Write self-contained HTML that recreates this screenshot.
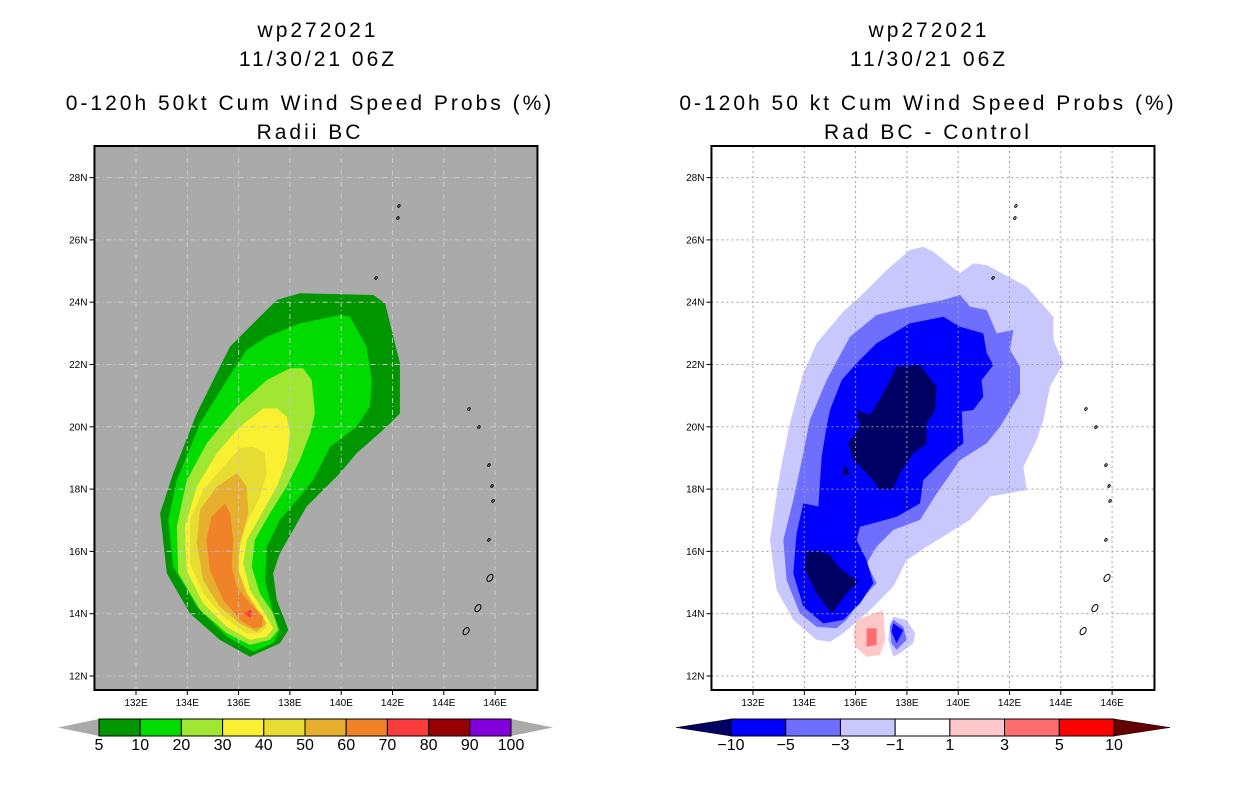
<!DOCTYPE html>
<html><head><meta charset="utf-8">
<style>
html,body{margin:0;padding:0;background:#fff;}
svg{display:block;}
text{font-family:"Liberation Sans",sans-serif;fill:#000;}
.t{font-size:21px;letter-spacing:3px;}
.tk{font-size:10px;}
.cb{font-size:16px;}
</style></head>
<body>
<svg id="fig" width="1236" height="800" viewBox="0 0 1236 800">
 <g>
  <text class="t" x="318" y="37" text-anchor="middle">wp272021</text>
  <text class="t" x="318" y="66" text-anchor="middle">11/30/21 06Z</text>
  <text class="t" x="310" y="110" text-anchor="middle">0-120h 50kt Cum Wind Speed Probs (%)</text>
  <text class="t" x="310" y="139" text-anchor="middle">Radii BC</text>
 </g>
 <g>
  <text class="t" x="929" y="37" text-anchor="middle">wp272021</text>
  <text class="t" x="929" y="66" text-anchor="middle">11/30/21 06Z</text>
  <text class="t" x="928" y="110" text-anchor="middle">0-120h 50 kt Cum Wind Speed Probs (%)</text>
  <text class="t" x="928" y="139" text-anchor="middle">Rad BC - Control</text>
 </g>
 <g id="left"></g>
 <g id="right"></g>
 <g id="lcb"></g>
 <g id="rcb"></g>
</svg>
<script>
const lonTicks=[132,134,136,138,140,142,144,146];
const latTicks=[12,14,16,18,20,22,24,26,28];
const leftLevels=["5","10","20","30","40","50","60","70","80","90","100"];
const leftColors=["#009600","#00dc00","#a0e632","#faf032","#e6dc32","#e6af2d","#f08228","#fa3c3c","#960000","#8200dc"];
const rightLevels=["-10","-5","-3","-1","1","3","5","10"];
const rightColors=["#0000ff","#6e6eff","#c8c8ff","#ffffff","#ffc8c8","#ff6e6e","#ff0000"];
// left contours [lon,lat]
const lc5=[[137.49,24.07],[138.39,24.29],[141.25,24.23],[141.71,23.96],[142.29,22.04],[142.29,20.43],[141.77,20.0],[140.6,19.15],[139.95,18.51],[138.65,17.44],[137.61,15.94],[137.35,15.3],[137.49,14.44],[137.94,13.48],[137.61,13.05],[136.44,12.62],[135.27,13.16],[134.1,14.01],[133.2,15.3],[132.94,17.22],[133.45,18.51],[134.37,20.43],[135.66,22.57],[136.57,23.32]];
const lc10=[[137.1,22.89],[138.39,23.32],[139.95,23.59],[140.34,23.53],[140.99,22.57],[141.19,21.5],[141.12,20.65],[140.6,20.0],[139.57,19.36],[138.91,18.29],[138.39,17.76],[137.61,17.01],[137.1,16.15],[137.03,15.08],[137.35,14.01],[137.61,13.48],[137.35,13.05],[136.57,12.78],[135.54,13.26],[134.37,14.22],[133.45,15.51],[133.26,17.01],[133.59,18.29],[134.5,20.11],[135.54,21.5],[136.32,22.47]];
const lc20=[[137.1,21.5],[138.0,21.88],[138.52,21.88],[138.85,21.5],[138.98,20.43],[138.79,19.79],[138.39,18.93],[137.87,18.08],[137.22,17.22],[136.63,16.37],[136.51,15.51],[136.83,14.65],[137.35,14.01],[137.55,13.48],[137.22,13.16],[136.44,13.0],[135.54,13.37],[134.5,14.12],[133.65,15.3],[133.59,16.79],[133.98,18.29],[134.76,19.47],[135.93,20.65]];
const lc30=[[136.96,20.59],[137.49,20.59],[137.88,20.32],[138.0,19.79],[137.88,18.93],[137.49,18.08],[136.83,17.11],[136.32,16.37],[136.18,15.62],[136.44,14.76],[137.03,14.01],[137.35,13.53],[137.1,13.26],[136.44,13.16],[135.54,13.58],[134.62,14.33],[133.97,15.4],[133.91,16.79],[134.37,18.08],[135.15,19.15],[136.05,20.0]];
const lc40=[[136.05,19.31],[136.57,19.36],[137.03,19.15],[137.1,18.51],[136.83,17.76],[136.32,16.9],[136.05,16.15],[135.92,15.4],[136.18,14.65],[136.83,14.01],[137.1,13.58],[136.83,13.37],[136.32,13.37],[135.4,13.9],[134.62,14.65],[134.1,15.62],[134.1,17.01],[134.62,17.97],[135.4,18.72]];
const lc50=[[135.93,18.51],[136.32,18.08],[136.38,17.22],[136.05,16.26],[135.99,15.4],[136.32,14.65],[136.83,14.01],[137.1,13.69],[136.7,13.42],[136.05,13.69],[135.27,14.22],[134.62,15.08],[134.37,16.26],[134.5,17.33],[135.15,18.08]];
const lc60=[[135.47,17.54],[135.67,17.22],[135.79,16.37],[135.73,15.51],[135.93,14.87],[136.44,14.33],[136.96,13.9],[136.9,13.58],[136.57,13.53],[136.05,13.8],[135.4,14.44],[134.88,15.4],[134.75,16.37],[134.94,17.11]];
const lc70=[[136.2,14.0],[136.45,14.13],[136.58,14.0],[136.45,13.88]];
// right contours
const rcM1=[[138.12,25.68],[138.64,25.78],[139.03,25.62],[140.07,24.93],[140.59,25.25],[141.11,25.19],[142.67,24.5],[143.71,23.53],[143.71,22.79],[144.1,22.04],[143.58,21.29],[143.32,20.22],[143.06,19.58],[142.54,18.72],[142.67,17.97],[141.24,17.76],[140.46,17.01],[138.77,16.15],[137.99,15.72],[137.47,14.87],[136.56,14.12],[135.52,13.37],[135.0,13.1],[134.48,13.16],[133.57,13.8],[132.92,14.76],[132.66,16.37],[133.05,18.51],[133.44,20.11],[133.96,21.72],[134.48,22.68],[135.52,23.7],[136.17,24.18],[137.21,25.03]];
const rcM3=[[139.42,24.07],[140.07,24.23],[140.46,23.86],[141.11,23.75],[141.5,23.0],[142.15,23.11],[142.02,22.47],[142.41,21.93],[142.41,21.07],[141.63,20.0],[141.11,19.47],[140.07,18.93],[139.16,17.86],[138.51,17.01],[137.47,16.69],[136.82,16.15],[136.43,15.62],[136.82,14.98],[136.17,14.44],[135.65,13.8],[135.26,13.53],[134.48,13.58],[133.83,14.01],[133.31,15.08],[133.18,16.37],[133.57,17.65],[133.96,19.15],[134.22,20.22],[134.87,21.5],[135.78,22.89],[136.82,23.59],[138.12,23.86]];
const rcM5=[[138.12,23.32],[139.42,23.53],[140.07,23.21],[140.98,23.0],[141.11,22.36],[141.37,21.98],[140.91,21.5],[140.98,20.97],[140.59,20.54],[140.14,20.49],[140.2,19.47],[139.42,18.93],[138.64,18.29],[138.51,17.54],[137.6,17.11],[136.17,16.79],[136.04,16.37],[136.43,15.72],[136.69,14.98],[136.17,14.33],[135.52,13.8],[134.74,13.69],[133.96,14.22],[133.57,15.3],[133.7,16.58],[133.96,17.54],[134.55,17.44],[134.68,19.04],[134.87,20.0],[135.0,20.54],[135.46,21.5],[136.04,22.04],[136.82,22.68]];
const rcM10a=[[137.6,21.93],[138.51,21.98],[139.16,21.29],[139.1,20.54],[138.77,20.11],[138.77,19.47],[138.25,19.15],[137.73,18.51],[137.47,18.02],[136.95,17.97],[136.56,18.4],[135.91,18.93],[135.72,19.47],[136.17,20.0],[136.04,20.54],[136.56,20.38],[137.08,21.07]];
const rcM10b=[[134.09,15.99],[134.48,16.04],[135.0,15.88],[135.39,15.46],[136.11,15.03],[135.65,14.65],[135.07,14.01],[134.48,14.65],[134.03,15.4]];
const rcM10c=[[135.59,18.78],[135.78,18.46],[135.46,18.46]];
const rcP1=[[136.04,13.8],[137.08,14.12],[137.15,13.16],[136.95,12.67],[136.43,12.62],[135.98,12.94],[135.91,13.37]];
const rcP3=[[136.43,13.53],[136.82,13.53],[136.82,13.0],[136.43,12.94]];
const rcBlobM1=[[137.47,13.9],[137.99,13.8],[138.32,13.37],[138.25,13.05],[137.73,12.73],[137.47,12.62],[137.27,13.16],[137.34,13.69]];
const rcBlobM3=[[137.47,13.8],[137.86,13.58],[137.99,13.16],[137.6,12.84],[137.4,13.05],[137.34,13.58]];
const rcBlobM5=[[137.47,13.69],[137.86,13.47],[137.6,13.05],[137.4,13.42]];
const islands=[[142.25,27.09],[142.21,26.7],[141.36,24.78],[144.98,20.57],[145.37,19.99],[145.76,18.77],[145.88,18.1],[145.92,17.62],[145.76,16.37],[145.8,15.15],[145.33,14.18],[144.87,13.44]];

const NS="http://www.w3.org/2000/svg";
function mk(tag,attrs,parent){const e=document.createElementNS(NS,tag);for(const k in attrs)e.setAttribute(k,attrs[k]);parent.appendChild(e);return e;}
function makeMap(g,x0,bg){
  const X=lon=>x0+(lon-132)*25.65;
  const Y=lat=>676-(lat-12)*31.15;
  const L=X(130.4)-0.5,R=L+443,T=146,B=690;
  const clipId="clip"+x0;
  const defs=mk("defs",{},g);
  const cp=mk("clipPath",{id:clipId},defs);
  mk("rect",{x:L,y:T,width:R-L,height:B-T},cp);
  const bgr=mk("rect",{x:L,y:T,width:R-L,height:B-T,fill:bg},g);
  
  
  const body=mk("g",{"clip-path":"url(#"+clipId+")"},g);
  return {X,Y,L,R,T,B,body};
}
function poly(m,pts,fill,name){
  const d=pts.map(p=>m.X(p[0]).toFixed(1)+","+m.Y(p[1]).toFixed(1)).join(" ");
  const e=mk("polygon",{points:d,fill:fill},m.body);
  
  
}
function grid(m,color,dash){
  lonTicks.forEach(lon=>{const l=mk("line",{x1:m.X(lon),x2:m.X(lon),y1:m.T,y2:m.B,stroke:color,"stroke-width":1,"stroke-dasharray":dash},m.body);
    
    });
  latTicks.forEach(lat=>{const l=mk("line",{x1:m.L,x2:m.R,y1:m.Y(lat),y2:m.Y(lat),stroke:color,"stroke-width":1,"stroke-dasharray":dash},m.body);
    
    });
}
function coast(m){
  islands.forEach((p,i)=>{
    const big=(i>=9);
    const e=mk("ellipse",{cx:m.X(p[0]),cy:m.Y(p[1]),rx:big?2.5:1,ry:big?4:1.5,fill:"none",stroke:"#000","stroke-width":1,transform:"rotate(35 "+m.X(p[0])+" "+m.Y(p[1])+")"},m.body);
    
    
  });
}
function axes(g,m){
  const fr=mk("rect",{x:m.L,y:m.T,width:m.R-m.L,height:m.B-m.T,fill:"none",stroke:"#000","stroke-width":2},g);
  
  
  latTicks.forEach(lat=>{
    mk("line",{x1:m.L-5,x2:m.L,y1:m.Y(lat),y2:m.Y(lat),stroke:"#000"},g);
    const t=mk("text",{x:m.L-7,y:m.Y(lat)+3.5,"text-anchor":"end",class:"tk"},g);
    t.textContent=lat+"N";
    
    
  });
  lonTicks.forEach(lon=>{
    mk("line",{x1:m.X(lon),x2:m.X(lon),y1:m.B,y2:m.B+5,stroke:"#000"},g);
    const t=mk("text",{x:m.X(lon),y:m.B+16,"text-anchor":"middle",class:"tk"},g);
    t.textContent=lon+"E";
    
    
  });
}
// left map
const gl=document.getElementById("left");
const ml=makeMap(gl,136,"#aaaaaa");
[lc5,lc10,lc20,lc30,lc40,lc50,lc60,lc70].forEach((p,i)=>poly(ml,p,leftColors[i],"prob-contour-"+leftLevels[i]));
grid(ml,"#c8c8c8","5,3,1,3");
coast(ml);
axes(gl,ml);
// right map
const gr=document.getElementById("right");
const mr=makeMap(gr,753,"#ffffff");
poly(mr,rcM1,rightColors[2],"diff-contour-minus1");
poly(mr,rcM3,rightColors[1],"diff-contour-minus3");
poly(mr,rcM5,rightColors[0],"diff-contour-minus5");
poly(mr,rcM10a,"#000064","diff-contour-minus10-north");
poly(mr,rcM10b,"#000064","diff-contour-minus10-south");
poly(mr,rcM10c,"#000064","diff-contour-minus10-small");
poly(mr,rcP1,rightColors[4],"diff-contour-plus1");
poly(mr,rcP3,rightColors[5],"diff-contour-plus3");
poly(mr,rcBlobM1,rightColors[2],"diff-blob-minus1");
poly(mr,rcBlobM3,rightColors[1],"diff-blob-minus3");
poly(mr,rcBlobM5,rightColors[0],"diff-blob-minus5");
grid(mr,"#a0a0a0","2,3");
coast(mr);
axes(gr,mr);
// colorbars
function colorbar(g,x0,x1,tipL,tipR,colors,labels,cl,cr){
  const y0=719,y1=736,n=colors.length,w=(x1-x0)/n;
  const a=mk("polygon",{points:`${tipL},${(y0+y1)/2} ${x0},${y0} ${x0},${y1}`,fill:cl,stroke:cl==="#aaaaaa"?"none":"#000","stroke-width":0.5},g);
  
  
  const b=mk("polygon",{points:`${tipR},${(y0+y1)/2} ${x1},${y0} ${x1},${y1}`,fill:cr,stroke:cr==="#aaaaaa"?"none":"#000","stroke-width":0.5},g);
  
  
  colors.forEach((c,i)=>{
    const r=mk("rect",{x:x0+i*w,y:y0,width:w,height:y1-y0,fill:c,stroke:"#000","stroke-width":1},g);
    
    
  });
  labels.forEach((s,i)=>{
    const t=mk("text",{x:x0+i*w,y:750,"text-anchor":"middle",class:"cb"},g);
    t.textContent=s.replace("-","\u2212");
    
    
  });
}
colorbar(document.getElementById("lcb"),99,511,58,553,leftColors,leftLevels,"#aaaaaa","#aaaaaa");
colorbar(document.getElementById("rcb"),731,1114,676,1170,rightColors,rightLevels,"#000064","#640000");
</script>
</body></html>
